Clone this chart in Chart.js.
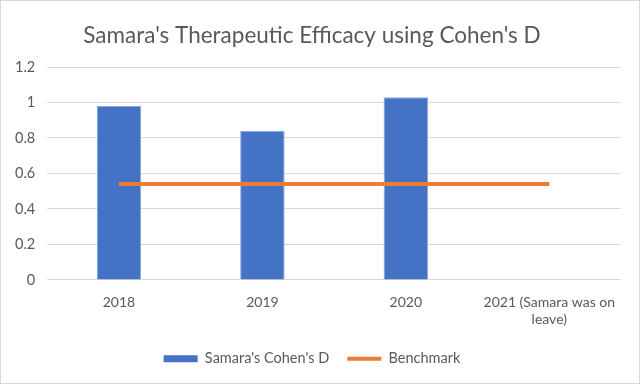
<!DOCTYPE html>
<html>
<head>
<meta charset="utf-8">
<script src="https://cdn.jsdelivr.net/npm/chart.js@4.4.1/dist/chart.umd.min.js"></script>
<style>
  html, body { margin: 0; padding: 0; background: #fff; }
  #wrap { position: relative; width: 638px; height: 382px; border: 1px solid #d9d9d9; }
</style>
</head>
<body>
<div id="wrap"><canvas id="chart"></canvas></div>
<script>
// Chart data
const years = ['2018', '2019', '2020', ['2021 (Samara was on', 'leave)']];
const cohensD = [0.98, 0.84, 1.03, null];
const benchmark = [0.54, 0.54, 0.54, 0.54];
const yTicks = [0, 0.2, 0.4, 0.6, 0.8, 1, 1.2];

const font = "'Lato', 'Open Sans', sans-serif";
const grey = '#595959';

new Chart(document.getElementById('chart'), {
    data: {
        labels: years,
        datasets: [
            {
                type: 'line',
                label: 'Benchmark',
                data: benchmark,
                borderColor: '#ed7d31',
                backgroundColor: '#ed7d31',
                borderWidth: 4,
                pointRadius: 0,
                tension: 0,
                order: 0
            },
            {
                type: 'bar',
                label: "Samara's Cohen's D",
                data: cohensD,
                backgroundColor: '#4472c4',
                borderColor: '#8aa6da',
                borderWidth: 1,
                categoryPercentage: 1,
                barPercentage: 0.31,
                order: 1
            }
        ]
    },
    options: {
        responsive: true,
        maintainAspectRatio: false,
        animation: false,
        layout: { padding: { left: 2, right: 18, top: 2, bottom: 7 } },
        plugins: {
            title: {
                display: true,
                text: "Samara's Therapeutic Efficacy using Cohen's D",
                color: grey,
                font: { family: font, size: 22.5, weight: 'normal' },
                padding: { top: 19, bottom: 18 }
            },
            legend: {
                position: 'bottom',
                reverse: true,
                labels: {
                    color: grey,
                    font: { family: font, size: 14.5 },
                    usePointStyle: true,
                    pointStyleWidth: 34,
                    boxWidth: 34,
                    boxHeight: 7,
                    padding: 18,
                    generateLabels(chart) {
                        const items = Chart.defaults.plugins.legend.labels.generateLabels(chart);
                        items.forEach(it => {
                            const ds = chart.data.datasets[it.datasetIndex];
                            it.pointStyle = ds.type === 'line' ? 'line' : 'rect';
                            if (ds.type === 'bar') it.lineWidth = 0;
                        });
                        return items;
                    }
                }
            },
            tooltip: { enabled: false }
        },
        scales: {
            x: {
                grid: { display: false },
                border: { display: false },
                ticks: {
                    color: grey,
                    font: { family: font, size: 14 },
                    maxRotation: 0,
                    autoSkip: false,
                    padding: 6
                }
            },
            y: {
                min: 0,
                max: 1.2,
                afterBuildTicks(axis) {
                    axis.ticks = yTicks.map(v => ({ value: v }));
                },
                grid: { color: '#d9d9d9', drawTicks: false },
                border: { display: false },
                ticks: {
                    color: grey,
                    font: { family: font, size: 14.5 },
                    padding: 12,
                    callback: v => String(Math.round(v * 10) / 10)
                }
            }
        }
    }
});
</script>
</body>
</html>
